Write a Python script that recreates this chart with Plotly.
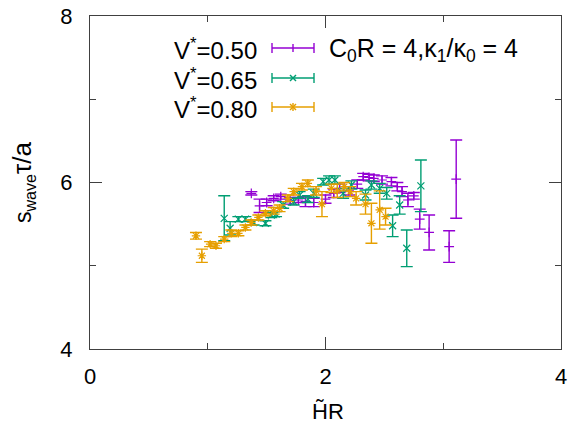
import plotly.graph_objects as go

# ---- data ----
x_050 = [1.37,1.44,1.50,1.56,1.62,1.70,1.77,1.83,1.90,2.00,2.07,2.12,2.20,2.27,2.32,2.37,2.41,2.48,2.56,2.61,2.65,2.70,2.75,2.80,2.88,3.05,3.11]
y_050 = [5.87,5.72,5.76,5.81,5.83,5.78,5.79,5.77,5.76,5.80,5.87,5.93,5.90,5.98,6.07,6.06,6.05,6.03,6.01,5.95,5.89,5.79,5.84,5.56,5.40,5.23,6.04]
e_050 = [0.02,0.08,0.04,0.03,0.03,0.04,0.03,0.06,0.05,0.05,0.05,0.05,0.05,0.05,0.04,0.04,0.04,0.05,0.05,0.05,0.06,0.08,0.04,0.12,0.21,0.19,0.47]

x_065 = [1.14,1.19,1.26,1.32,1.39,1.49,1.54,1.58,1.64,1.73,1.78,1.85,1.90,1.98,2.03,2.08,2.15,2.22,2.34,2.39,2.46,2.52,2.57,2.63,2.69,2.81]
y_065 = [5.57,5.45,5.56,5.56,5.52,5.51,5.61,5.62,5.73,5.77,5.85,5.80,5.87,6.01,6.03,6.03,5.87,5.97,5.85,5.97,5.93,5.87,5.48,5.73,5.21,5.96]
e_065 = [0.27,0.08,0.03,0.03,0.03,0.03,0.03,0.03,0.04,0.04,0.04,0.04,0.05,0.04,0.05,0.05,0.06,0.05,0.06,0.05,0.06,0.07,0.13,0.11,0.22,0.31]

x_080 = [0.90,0.95,1.02,1.07,1.14,1.20,1.26,1.32,1.37,1.43,1.49,1.56,1.61,1.68,1.73,1.80,1.85,1.92,1.97,2.05,2.10,2.16,2.21,2.26,2.34,2.39,2.46,2.51]
y_080 = [5.36,5.12,5.26,5.24,5.32,5.39,5.39,5.46,5.52,5.58,5.63,5.66,5.69,5.81,5.89,5.95,5.99,5.90,5.74,5.93,5.90,5.95,5.89,5.81,5.74,5.51,5.67,5.59]
e_080 = [0.04,0.08,0.03,0.03,0.03,0.04,0.03,0.03,0.03,0.03,0.03,0.04,0.04,0.04,0.04,0.04,0.04,0.05,0.15,0.05,0.08,0.05,0.06,0.08,0.12,0.24,0.23,0.10]

labels = ["V<sup>*</sup>=0.50", "V<sup>*</sup>=0.65", "V<sup>*</sup>=0.80"]
colors = ["#9400D3", "#009E73", "#E69F00"]
symbols = ["cross-thin", "x-thin", "asterisk"]
x_ticks = [0, 2, 4]
y_ticks = [4, 6, 8]

W, H = 569, 439
PL, PR, PT, PB = 90, 561, 16, 349          # plot area in window pixels
L, T, R, B = PL, PT, W - PR, H - PB
PW, PH = PR - PL, PB - PT

def px(xp):
    return (xp - PL) / PW

def py(yp):
    return (PB - yp) / PH

FONT = "Liberation Sans, Arial, sans-serif"

fig = go.Figure()
series = [(x_050, y_050, e_050), (x_065, y_065, e_065), (x_080, y_080, e_080)]
for (xs, ys, es), lab, c, s in zip(series, labels, colors, symbols):
    fig.add_trace(go.Scatter(
        x=xs, y=ys, mode="markers", name=lab, showlegend=False,
        marker=dict(symbol=s, size=7, color=c, line=dict(color=c, width=1.2)),
        error_y=dict(type="data", array=es, color=c, thickness=1.4, width=6),
    ))

axis_common = dict(
    showgrid=False, zeroline=False, showline=True, linecolor="#404040", linewidth=1,
    mirror="ticks", ticks="inside", ticklen=12, tickcolor="#404040", tickwidth=1,
    tickfont=dict(family=FONT, size=22, color="#000000"), automargin=False,
)
fig.update_xaxes(range=[0, 4], tickvals=x_ticks, ticktext=[str(v) for v in x_ticks],
                 minor=dict(ticks="inside", ticklen=6, dtick=1, tickcolor="#404040"),
                 ticklabelstandoff=8, **axis_common)
fig.update_yaxes(range=[4, 8], tickvals=y_ticks, ticktext=[str(v) for v in y_ticks],
                 minor=dict(ticks="inside", ticklen=6, dtick=1, tickcolor="#404040"),
                 ticklabelstandoff=12, **axis_common)

annotations = []
shapes = []
rows = [48, 78, 107]
for lab, c, s, yr in zip(labels, colors, symbols, rows):
    annotations.append(dict(x=px(259), y=py(yr + 1), xref="paper", yref="paper",
                            text=lab, showarrow=False, xanchor="right", yanchor="middle",
                            font=dict(family=FONT, size=24, color="#000000")))
    x0, x1 = px(272), px(314)
    ln = dict(color=c, width=1.4)
    shapes.append(dict(type="line", xref="paper", yref="paper", x0=x0, x1=x1, y0=py(yr), y1=py(yr), line=ln))
    for xx in (x0, x1):
        shapes.append(dict(type="line", xref="paper", yref="paper", x0=xx, x1=xx, y0=py(yr - 5), y1=py(yr + 5), line=ln))
    cx = 293
    if s in ("cross-thin", "asterisk"):
        shapes.append(dict(type="line", xref="paper", yref="paper", x0=px(cx), x1=px(cx), y0=py(yr - 4), y1=py(yr + 4), line=ln))
    if s in ("x-thin", "asterisk"):
        shapes.append(dict(type="line", xref="paper", yref="paper", x0=px(cx - 3), x1=px(cx + 3), y0=py(yr - 3), y1=py(yr + 3), line=ln))
        shapes.append(dict(type="line", xref="paper", yref="paper", x0=px(cx - 3), x1=px(cx + 3), y0=py(yr + 3), y1=py(yr - 3), line=ln))

annotations.append(dict(x=px(327), y=py(50), xref="paper", yref="paper",
                        text="C<sub>0</sub>R = 4,κ<sub>1</sub>/κ<sub>0</sub> = 4", showarrow=False,
                        xanchor="left", yanchor="middle",
                        font=dict(family=FONT, size=25, color="#000000")))
annotations.append(dict(x=px(23), y=py(182), xref="paper", yref="paper",
                        text="s<sub>wave</sub><span style='font-size:26px'>τ/a</span>", showarrow=False, textangle=-90,
                        xanchor="center", yanchor="middle",
                        font=dict(family=FONT, size=23, color="#000000")))
annotations.append(dict(x=px(328), y=py(411), xref="paper", yref="paper",
                        text="H\u0303R", showarrow=False,
                        xanchor="center", yanchor="middle",
                        font=dict(family=FONT, size=22, color="#000000")))

fig.update_layout(
    width=W, height=H, margin=dict(l=L, r=R, t=T, b=B, autoexpand=False),
    paper_bgcolor="white", plot_bgcolor="white",
    annotations=annotations, shapes=shapes, showlegend=False,
)
fig.write_html(
    "out.html",
    config={"displayModeBar": False},
    post_script="document.body.style.margin='0';document.body.style.padding='0';document.body.style.overflow='hidden';",
)
